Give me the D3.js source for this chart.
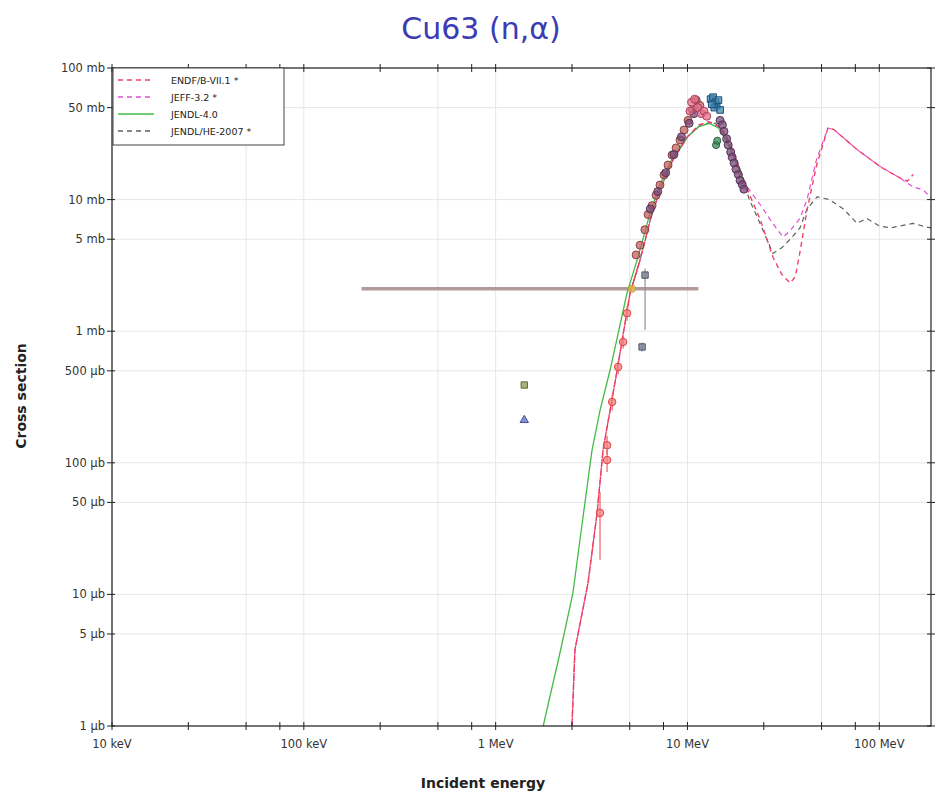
<!DOCTYPE html>
<html><head><meta charset="utf-8">
<script src="https://cdn.jsdelivr.net/npm/d3@7"></script>
<style>body{margin:0;background:#fff}svg{display:block;font-family:"DejaVu Sans",sans-serif}</style>
</head><body><svg id="c" width="936" height="798"></svg>
<script>
// ---------- data (energies in MeV, cross sections in mb) ----------
const xTickValues = [0.01, 0.1, 1, 10, 100];
const xTickLabels = ["10 keV", "100 keV", "1 MeV", "10 MeV", "100 MeV"];
const xMinorMult = [2.5, 5, 7.5];
const yTickValues = [100, 50, 10, 5, 1, 0.5, 0.1, 0.05, 0.01, 0.005, 0.001];
const yTickLabels = ["100 mb", "50 mb", "10 mb", "5 mb", "1 mb", "500 µb", "100 µb", "50 µb", "10 µb", "5 µb", "1 µb"];

const legendNames = ["ENDF/B-VII.1 *", "JEFF-3.2 *", "JENDL-4.0", "JENDL/HE-2007 *"];
const legendColors = ["#ee4466", "#e050d0", "#44bb44", "#5a665a"];
const legendDash = ["5,4", "5,4", null, "5,4"];

const endfE = [2.5,2.59,3.03,3.38,3.63,4.30,5.02,5.66,6.4,7.2,8.4,10,11.5,13,15,17,19,21,24,27.9,31,34.3,36.5,38.6,42,47,54,58,62.5,76.6,100,128,140,150];
const endfS = [0.001,0.0038,0.0122,0.0416,0.125,0.507,1.95,3.47,7,12,20,30,37,39,35,25,16,11,7,3.66,2.7,2.32,2.6,4,8.3,18,35,34,31,24,18,14.6,13.8,15.5];
const jeffE = [2.5,2.59,3.03,3.38,3.63,4.30,5.02,5.66,6.4,7.2,8.4,10,11.5,13,15,17,18.8,24,28,31.5,34.3,38.6,42,47,54,58,62.5,76.6,100,128,150,170,198];
const jeffS = [0.001,0.0038,0.0122,0.0416,0.125,0.507,1.95,3.47,7,12,20,30,37,39,35,24,14.8,9.1,6.5,5.2,5.8,7.2,10,20,35,34,31,24,18,14.6,12.5,11.8,9.4];
const jendlE = [1.77,2.2,2.53,2.75,3.03,3.18,3.5,3.95,4.84,5.46,6.4,7.2,8.4,10,11.5,13,14.5,16,18,20];
const jendlS = [0.001,0.004,0.0103,0.0259,0.074,0.125,0.25,0.507,1.95,3.47,8,13,21,30,36,38,35,28,19,13];
const heE = [5.02,5.66,6.4,7.2,8.4,10,11.5,13,14,16,18.8,21,24,27.9,31,34.3,38.6,42,47.4,55,65,76.6,86,100,114,128,150,175,198];
const heS = [1.95,3.47,7,12,20,30,36,38,38,30,17,10,6.5,3.9,4.3,5.0,6.1,8.5,10.5,10,8.5,6.6,7.2,6.3,6.1,6.3,6.6,6.2,6.0];

// experimental sets
const expRedE = [3.50,3.81,3.81,4.05,4.35,4.62,4.84];
const expRedS = [0.0416,0.105,0.136,0.290,0.535,0.828,1.37];
const expRedLo = [0.0183,0.085,0.115,0.25,0.47,0.74,1.2];
const expRedHi = [0.06,0.125,0.16,0.33,0.6,0.92,1.55];
const expGrayE = [6.01,5.80];
const expGrayS = [2.67,0.759];
const expGrayLo = [1.02,0.70];
const expGrayHi = [3.0,0.82];
const expBrownE = [5.40,5.66,6.0,6.23,6.54,6.86,7.19,7.55,7.92,8.31,8.72,9.15,9.6,10.07,10.6,11.1,11.6];
const expBrownS = [3.8,4.5,5.9,7.7,9.0,10.8,12.9,15.4,18.3,21.8,24.7,28.4,33.8,40,48,57,52];
const expPurpleE = [6.4,7.0,7.7,8.5,9.3,10.2,10.8,14.8,15.2,15.5,16.0,16.3,16.8,17.1,17.5,17.9,18.4,18.8,19.3,19.7];
const expPurpleS = [8.5,11.5,16,22,30,38,45,40,37,33,29,26,23,21,19,17,15.5,14,13,12];
const expPinkE = [10.3,10.5,10.9,11.3,11.8,12.2,12.6];
const expPinkS = [47,55,58,50,45,47,43];
const expTealE = [13.2,13.6,14.0,14.2,14.5,13.8,14.8,13.4];
const expTealS = [58,60,55,52,57,50,48,53];
const expGreenE = [14.1,14.3];
const expGreenS = [26,28];
const expOliveE = [1.41];
const expOliveS = [0.39];
const expBlueE = [1.41];
const expBlueS = [0.211];
const wideE = [5.14];
const wideS = [2.1];
const wideLo = [0.2];
const wideHi = [11.4];

// ---------- drawing ----------
const svg = d3.select("#c");
const L = 112, T = 68, R = 931, B = 726;
const x = d3.scaleLog().domain([0.01, 186]).range([L, R]);
const y = d3.scaleLog().domain([0.001, 100]).range([B, T]);

svg.append("text").attr("x", 481).attr("y", 39).attr("text-anchor", "middle")
  .attr("font-size", 30).attr("fill", "#3b3bb5").text("Cu63 (n,α)");

// grid
const gridX = [];
xTickValues.forEach(v => { gridX.push(v); gridX.push(v * 5); });
const g = svg.append("g");
g.selectAll(".gx").data(gridX.filter(v => v < 186)).join("line")
  .attr("x1", d => x(d)).attr("x2", d => x(d)).attr("y1", T).attr("y2", B)
  .attr("stroke", "#e6e6e6").attr("stroke-width", 1);
g.selectAll(".gy").data(yTickValues).join("line")
  .attr("y1", d => y(d)).attr("y2", d => y(d)).attr("x1", L).attr("x2", R)
  .attr("stroke", "#e6e6e6").attr("stroke-width", 1);

// clip
svg.append("clipPath").attr("id", "clip").append("rect")
  .attr("x", L).attr("y", T).attr("width", R - L).attr("height", B - T);
const plot = svg.append("g").attr("clip-path", "url(#clip)");

const line = d3.line().x(d => x(d[0])).y(d => y(d[1]));
function drawCurve(E, S, color, dash, w) {
  plot.append("path").datum(E.map((e, i) => [e, S[i]]))
    .attr("d", line).attr("fill", "none").attr("stroke", color)
    .attr("stroke-width", w).attr("stroke-dasharray", dash);
}

// wide horizontal error bar
plot.selectAll(".wide").data(wideE).join("line")
  .attr("x1", (d, i) => x(wideLo[i])).attr("x2", (d, i) => x(wideHi[i]))
  .attr("y1", (d, i) => y(wideS[i])).attr("y2", (d, i) => y(wideS[i]))
  .attr("stroke", "#b39a9a").attr("stroke-width", 3.5);

drawCurve(heE, heS, legendColors[3], legendDash[3], 1.2);
drawCurve(jendlE, jendlS, legendColors[2], null, 1.3);
drawCurve(jeffE, jeffS, legendColors[1], "5,4", 1.2);
drawCurve(endfE, endfS, legendColors[0], "5,4", 1.4);
plot.append("path").datum(endfE.slice(0, 8).map((e, i) => [e, endfS[i]]))
  .attr("d", line).attr("fill", "none").attr("stroke", "#ee3355")
  .attr("stroke-width", 1.3).attr("stroke-dasharray", "4,5").attr("stroke-dashoffset", 4.5);

function errBars(E, lo, hi, color) {
  plot.append("g").selectAll("line").data(E).join("line")
    .attr("x1", d => x(d)).attr("x2", d => x(d))
    .attr("y1", (d, i) => y(lo[i])).attr("y2", (d, i) => y(hi[i]))
    .attr("stroke", color).attr("stroke-width", 1.2);
}
errBars(expRedE, expRedLo, expRedHi, "#f06060");
errBars(expGrayE, expGrayLo, expGrayHi, "#8890a0");

function points(E, S, type, fill, stroke, size) {
  const sym = d3.symbol().type(type).size(size);
  plot.append("g").selectAll("path").data(E).join("path")
    .attr("transform", (d, i) => `translate(${x(d)},${y(S[i])})`)
    .attr("d", sym).attr("fill", fill).attr("fill-opacity", 0.75)
    .attr("stroke", stroke).attr("stroke-width", 1);
}
points(expBrownE, expBrownS, d3.symbolCircle, "#c06060", "#8a4040", 50);
points(expPurpleE, expPurpleS, d3.symbolCircle, "#7a4a78", "#553355", 50);
points(expPinkE, expPinkS, d3.symbolCircle, "#e07088", "#b04060", 50);
points(expTealE, expTealS, d3.symbolSquare, "#3a8aa8", "#224a80", 44);
points(expGreenE, expGreenS, d3.symbolCircle, "#3a8a5a", "#2a6040", 40);
points(expRedE, expRedS, d3.symbolCircle, "#f08080", "#e04040", 44);
points(expGrayE, expGrayS, d3.symbolSquare, "#707a90", "#505060", 40);
points(expOliveE, expOliveS, d3.symbolSquare, "#8a9a50", "#606a30", 40);
points(expBlueE, expBlueS, d3.symbolTriangle, "#6070c0", "#4050a0", 30);
points(wideE, wideS, d3.symbolCircle, "#e0c040", "#c0a030", 40);

// frame
svg.append("rect").attr("x", L).attr("y", T).attr("width", R - L).attr("height", B - T)
  .attr("fill", "none").attr("stroke", "#222").attr("stroke-width", 1.2);

// x ticks
const xMinor = [];
xTickValues.forEach(v => xMinorMult.forEach(m => { if (v * m < 186) xMinor.push(v * m); }));
const ax = svg.append("g");
ax.selectAll(".xt").data(xTickValues.concat(xMinor)).join("line")
  .attr("x1", d => x(d)).attr("x2", d => x(d)).attr("y1", B - 4).attr("y2", B + 4)
  .attr("stroke", "#222");
ax.selectAll(".xtt").data(xTickValues.concat(xMinor)).join("line")
  .attr("x1", d => x(d)).attr("x2", d => x(d)).attr("y1", T - 4).attr("y2", T + 4)
  .attr("stroke", "#222");
ax.selectAll(".xl").data(xTickValues).join("text")
  .attr("x", d => x(d)).attr("y", B + 22).attr("text-anchor", "middle")
  .attr("font-size", 11.5).attr("fill", "#333").text((d, i) => xTickLabels[i]);

// y ticks
ax.selectAll(".yt").data(yTickValues).join("line")
  .attr("y1", d => y(d)).attr("y2", d => y(d)).attr("x1", L - 5).attr("x2", L + 3)
  .attr("stroke", "#222");
ax.selectAll(".ytr").data(yTickValues).join("line")
  .attr("y1", d => y(d)).attr("y2", d => y(d)).attr("x1", R - 4).attr("x2", R + 4)
  .attr("stroke", "#222");
ax.selectAll(".yl").data(yTickValues).join("text")
  .attr("x", L - 7).attr("y", d => y(d) + 4).attr("text-anchor", "end")
  .attr("font-size", 11.5).attr("fill", "#333").text((d, i) => yTickLabels[i]);

svg.append("text").attr("x", 483).attr("y", 788).attr("text-anchor", "middle")
  .attr("font-size", 14).attr("font-weight", "bold").attr("fill", "#222").text("Incident energy");
svg.append("text").attr("transform", "translate(26,396) rotate(-90)").attr("text-anchor", "middle")
  .attr("font-size", 14).attr("font-weight", "bold").attr("fill", "#222").text("Cross section");

// legend
const lg = svg.append("g");
lg.append("rect").attr("x", L + 1).attr("y", T).attr("width", 171).attr("height", 77)
  .attr("fill", "#fff").attr("stroke", "#444").attr("stroke-width", 1);
legendNames.forEach((n, i) => {
  const yy = T + 12 + i * 17;
  lg.append("line").attr("x1", L + 6).attr("x2", L + 42).attr("y1", yy).attr("y2", yy)
    .attr("stroke", legendColors[i]).attr("stroke-width", 1.5)
    .attr("stroke-dasharray", legendDash[i]);
  lg.append("text").attr("x", L + 59).attr("y", yy + 3.5).attr("font-size", 9.5)
    .attr("fill", "#222").text(n);
});
</script></body></html>
